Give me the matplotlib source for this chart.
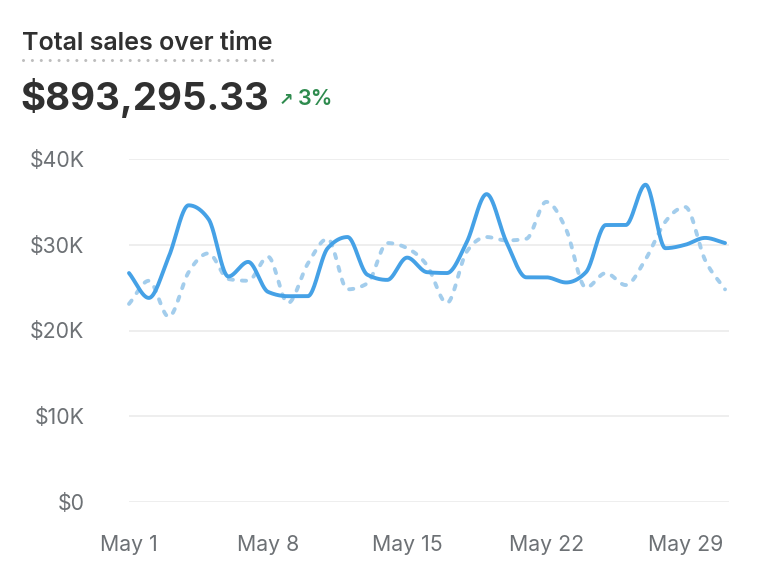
import matplotlib
matplotlib.use("Agg")
import matplotlib.pyplot as plt
from matplotlib.lines import Line2D
import numpy as np

plt.rcParams['font.family'] = ['Inter', 'DejaVu Sans']

days = list(range(1, 32))
sales = [26.7, 23.8, 28.6, 34.6, 33.0, 26.3, 28.0, 24.5, 24.0, 24.0,
         29.6, 30.9, 26.5, 25.9, 28.5, 26.8, 26.7, 30.3, 35.9, 30.3,
         26.2, 26.2, 25.6, 26.8, 32.3, 32.3, 37.0, 29.6, 30.0, 30.8, 30.2]
prev_sales = [23.1, 25.8, 21.6, 26.8, 29.0, 26.0, 25.8, 28.6, 23.2, 27.8,
              30.7, 24.8, 25.5, 30.2, 29.6, 27.6, 23.2, 29.2, 30.9, 30.5,
              30.7, 35.0, 31.8, 25.0, 26.7, 25.3, 28.3, 32.7, 34.4, 28.2, 24.8]
yticks = [0, 10, 20, 30, 40]
ytick_labels = ["$0", "$10K", "$20K", "$30K", "$40K"]
xticks = [1, 8, 15, 22, 29]
xtick_labels = ["May 1", "May 8", "May 15", "May 22", "May 29"]


def monotone(x, y, n=40):
    # monotone cubic curve between points, like d3 curveMonotoneX
    x = np.asarray(x, float)
    y = np.asarray(y, float)
    h = np.diff(x)
    s = np.diff(y) / h
    m = np.zeros_like(y)
    for i in range(1, len(y) - 1):
        if s[i - 1] * s[i] <= 0:
            m[i] = 0
        else:
            p = (s[i - 1] * h[i] + s[i] * h[i - 1]) / (h[i - 1] + h[i])
            m[i] = np.sign(s[i - 1]) * min(abs(s[i - 1]), abs(s[i]), 0.5 * abs(p)) * 2
    m[0] = s[0]
    m[-1] = s[-1]
    xs, ys = [], []
    for i in range(len(h)):
        t = np.linspace(0, 1, n, endpoint=False)
        h00 = 2 * t**3 - 3 * t**2 + 1
        h10 = t**3 - 2 * t**2 + t
        h01 = -2 * t**3 + 3 * t**2
        h11 = t**3 - t**2
        xs.append(x[i] + t * h[i])
        ys.append(h00 * y[i] + h10 * h[i] * m[i] + h01 * y[i + 1] + h11 * h[i] * m[i + 1])
    xs.append([x[-1]])
    ys.append([y[-1]])
    return np.concatenate(xs), np.concatenate(ys)


fig = plt.figure(figsize=(7.6, 5.78), dpi=100)
ax = fig.add_axes([129 / 760, 76 / 578, 600 / 760, 343 / 578])

px, py = monotone(days, prev_sales)
ax.plot(px, py, color="#a3cdec", lw=2.8, dashes=(1.1, 2.3), solid_capstyle="round",
        dash_capstyle="round", clip_on=False)
cx, cy = monotone(days, sales)
ax.plot(cx, cy, color="#45a1e6", lw=2.8, solid_capstyle="round", clip_on=False)

ax.set_xlim(1, 31.2)
ax.set_ylim(0, 40)
ax.set_yticks(yticks)
ax.set_yticklabels(ytick_labels)
ax.set_xticks(xticks)
ax.set_xticklabels(xtick_labels)
ax.grid(axis="y", color="#ebebeb", lw=1.2)
ax.set_axisbelow(True)
for sp in ax.spines.values():
    sp.set_visible(False)
ax.tick_params(length=0, labelsize=15.3, colors="#6d7175")
ax.tick_params(axis="y", pad=32)
ax.tick_params(axis="x", pad=24)

fig.text(22 / 760, 1 - 43 / 578, "Total sales over time", fontsize=18, fontweight="semibold",
         color="#303030", va="center")
fig.add_artist(Line2D([23 / 760, 276 / 760], [1 - 60 / 578, 1 - 60 / 578], color="#bdbdbd",
                      lw=2.2, dashes=(0.01, 2.9), dash_capstyle="round"))
fig.text(20 / 760, 1 - 98 / 578, "$893,295.33", fontsize=27.7, fontweight="bold",
         color="#303030", va="center")
fig.text(279 / 760, 1 - 100 / 578, "\u2197", fontsize=12.5, fontweight="bold", color="#2e8b4e",
         va="center", family=["DejaVu Sans"])
fig.text(298 / 760, 1 - 99 / 578, "3%", fontsize=15.5, fontweight="semibold", color="#2e8b4e",
         va="center")

fig.savefig("out.png", dpi=100, facecolor="white")
